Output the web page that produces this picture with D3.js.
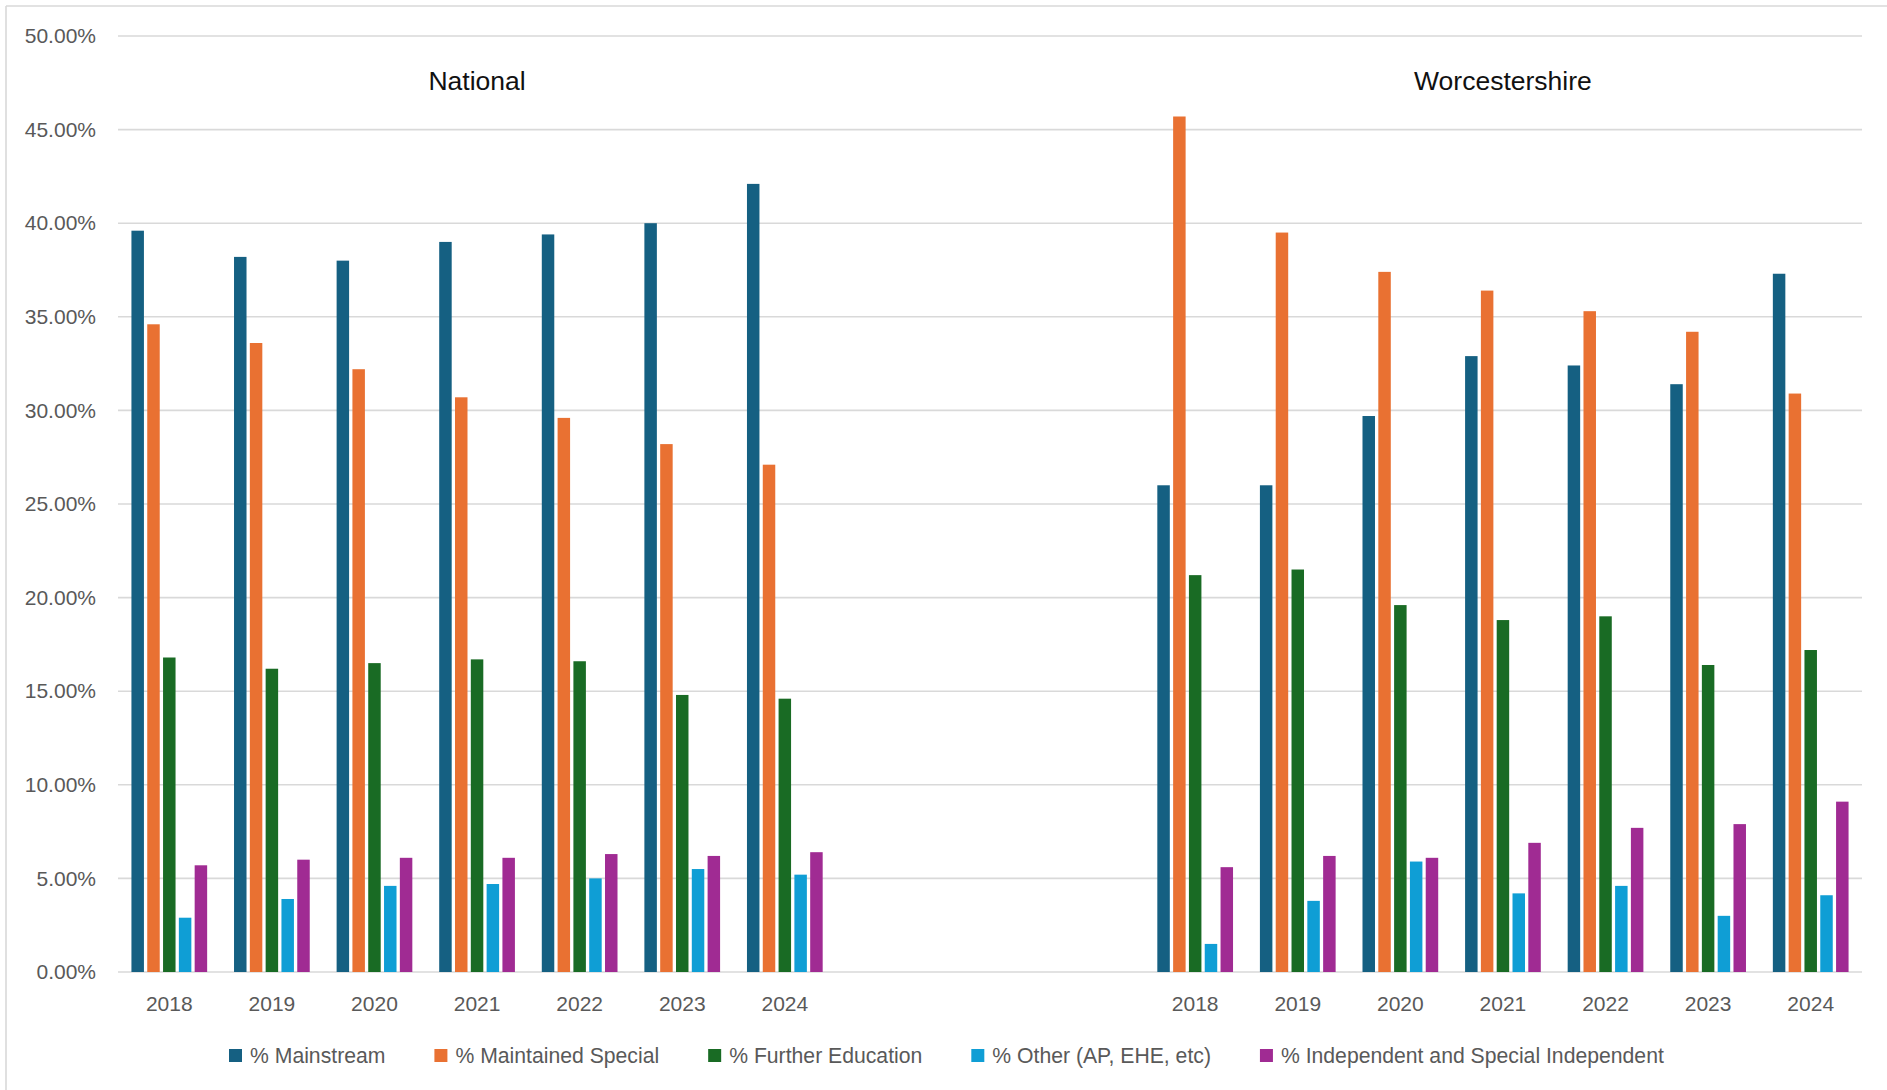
<!DOCTYPE html>
<html>
<head>
<meta charset="utf-8">
<script src="https://cdn.jsdelivr.net/npm/d3@7"></script>
<style>
  html, body { margin: 0; padding: 0; background: #fff; }
  svg { display: block; font-family: "Liberation Sans", Arial, sans-serif; }
</style>
</head>
<body>
<svg id="chart" width="1887" height="1090"></svg>
<script>
// Destination of young people with EHC plans, by year: National vs Worcestershire
const years = ["2018", "2019", "2020", "2021", "2022", "2023", "2024"];
const areas = ["National", "Worcestershire"];
const gapSlots = 3; // empty category slots between the two areas

const seriesNames = [
  "% Mainstream",
  "% Maintained Special",
  "% Further Education",
  "% Other (AP, EHE, etc)",
  "% Independent and Special Independent"
];
const seriesColors = ["#156082", "#E97132", "#196B24", "#0F9ED5", "#A02B93"];

// National percentages per series, 2018–2024
const nationalMainstream  = [39.6, 38.2, 38.0, 39.0, 39.4, 40.0, 42.1];
const nationalMaintained  = [34.6, 33.6, 32.2, 30.7, 29.6, 28.2, 27.1];
const nationalFurtherEd   = [16.8, 16.2, 16.5, 16.7, 16.6, 14.8, 14.6];
const nationalOther       = [2.9, 3.9, 4.6, 4.7, 5.0, 5.5, 5.2];
const nationalIndependent = [5.7, 6.0, 6.1, 6.1, 6.3, 6.2, 6.4];

// Worcestershire percentages per series, 2018–2024
const worcsMainstream  = [26.0, 26.0, 29.7, 32.9, 32.4, 31.4, 37.3];
const worcsMaintained  = [45.7, 39.5, 37.4, 36.4, 35.3, 34.2, 30.9];
const worcsFurtherEd   = [21.2, 21.5, 19.6, 18.8, 19.0, 16.4, 17.2];
const worcsOther       = [1.5, 3.8, 5.9, 4.2, 4.6, 3.0, 4.1];
const worcsIndependent = [5.6, 6.2, 6.1, 6.9, 7.7, 7.9, 9.1];

const yTicks = [0, 0.05, 0.10, 0.15, 0.20, 0.25, 0.30, 0.35, 0.40, 0.45, 0.50];

// Build the category slots: 7 national years, blank slots, 7 Worcestershire years
const areaValues = {
  National: [nationalMainstream, nationalMaintained, nationalFurtherEd, nationalOther, nationalIndependent],
  Worcestershire: [worcsMainstream, worcsMaintained, worcsFurtherEd, worcsOther, worcsIndependent]
};
const slots = [];
years.forEach((yr, i) => slots.push({ key: "N" + i, label: yr, area: "National", yi: i }));
for (let g = 0; g < gapSlots; g++) slots.push({ key: "gap" + g, label: "", area: null, yi: -1 });
years.forEach((yr, i) => slots.push({ key: "W" + i, label: yr, area: "Worcestershire", yi: i }));

const svg = d3.select("#chart");
const W = 1887, H = 1090;
const plot = { left: 118, right: 1862, top: 36, bottom: 972 };

// Chart frame (top and left edges visible)
svg.append("line").attr("x1", 6).attr("x2", W).attr("y1", 6).attr("y2", 6)
  .attr("stroke", "#d9d9d9").attr("stroke-width", 1.6);
svg.append("line").attr("x1", 6).attr("x2", 6).attr("y1", 6).attr("y2", H)
  .attr("stroke", "#d9d9d9").attr("stroke-width", 1.6);

const x0 = d3.scaleBand().domain(slots.map(s => s.key)).range([plot.left, plot.right]).padding(0);
const groupHalf = x0.bandwidth() * 0.369;
const x1 = d3.scaleBand().domain(seriesNames).range([-groupHalf, groupHalf]).paddingInner(0.21).paddingOuter(0);
const y = d3.scaleLinear().domain([0, 0.5]).range([plot.bottom, plot.top]);

// Gridlines
svg.append("g").selectAll("line").data(yTicks).join("line")
  .attr("x1", plot.left).attr("x2", plot.right)
  .attr("y1", d => y(d)).attr("y2", d => y(d))
  .attr("stroke", "#d9d9d9").attr("stroke-width", 1.6);

// Y axis labels
const yAxis = d3.axisLeft(y).tickValues(yTicks).tickFormat(d3.format(".2%")).tickSize(0).tickPadding(22);
const yg = svg.append("g").attr("transform", `translate(${plot.left},0)`).call(yAxis);
yg.select(".domain").remove();
yg.selectAll("text").attr("fill", "#595959").style("font-size", "21px")
  .style("font-family", "'Liberation Sans', Arial, sans-serif");

// X axis labels
const xAxis = d3.axisBottom(x0).tickFormat(k => slots.find(s => s.key === k).label).tickSize(0).tickPadding(24);
const xg = svg.append("g").attr("transform", `translate(0,${plot.bottom})`).call(xAxis);
xg.select(".domain").remove();
xg.selectAll("text").attr("fill", "#595959").style("font-size", "21px")
  .style("font-family", "'Liberation Sans', Arial, sans-serif");

// Bars
const barData = [];
slots.filter(s => s.area).forEach(s => {
  seriesNames.forEach((name, si) => {
    barData.push({ slot: s.key, series: name, color: seriesColors[si], value: areaValues[s.area][si][s.yi] / 100 });
  });
});
svg.append("g").selectAll("rect").data(barData).join("rect")
  .attr("x", d => x0(d.slot) + x0.bandwidth() / 2 + x1(d.series))
  .attr("width", x1.bandwidth())
  .attr("y", d => y(d.value))
  .attr("height", d => y(0) - y(d.value))
  .attr("fill", d => d.color);

// Area titles, centred on the middle year of each group
areas.forEach(a => {
  const mid = slots.find(s => s.area === a && s.yi === 3);
  svg.append("text")
    .attr("x", x0(mid.key) + x0.bandwidth() / 2)
    .attr("y", 90)
    .attr("text-anchor", "middle")
    .attr("fill", "#111")
    .style("font-size", "26.5px")
    .text(a);
});

// Legend
const legend = svg.append("g").attr("transform", "translate(229,1049)");
let lx = 0;
seriesNames.forEach((name, i) => {
  const item = legend.append("g").attr("transform", `translate(${lx},0)`);
  item.append("rect").attr("width", 13).attr("height", 13).attr("fill", seriesColors[i]);
  const t = item.append("text").attr("x", 21).attr("y", 13.5)
    .attr("fill", "#595959").style("font-size", "21.2px").text(name);
  lx += 21 + t.node().getComputedTextLength() + 49;
});
</script>
</body>
</html>
